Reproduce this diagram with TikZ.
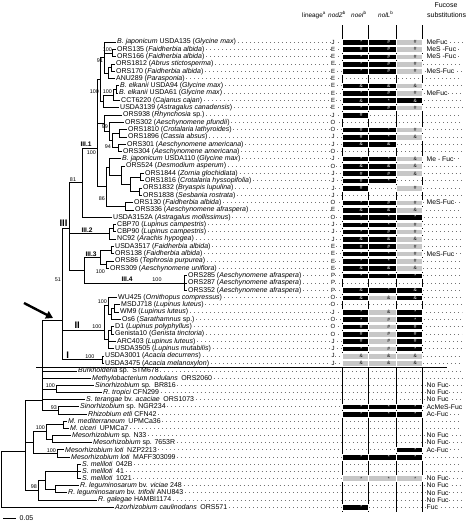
\documentclass[tikz,border=0pt]{standalone}
\usepackage{fontspec}
\setmainfont{Liberation Sans}
\usetikzlibrary{arrows.meta}
\colorlet{cK}{black}
\colorlet{sK}{white}
\colorlet{cG}{black!22}
\colorlet{sG}{black}
\newcommand\cz[5]{\ifx#4W\else
  \fill[fill=c#4,draw=white,line width=0.4pt] (#2,#1-2.8) rectangle (#3,#1+2.8);
  \node[sym,text=s#4] at ({#2+0.74*(#3-#2)},#1) {#5};\fi}
\newcommand\rowc[7]{\cz{#1}{342}{368}{#2}{#3}\cz{#1}{368}{396}{#4}{#5}\cz{#1}{396}{422}{#6}{#7}}
\newcommand\lab[4]{\node[lbl] (#1) at (#2,#3) {#4};}
\newcommand\fuc[3]{\node[fuc] (#1) at (426,#2) {#3};}
\begin{document}
\begin{tikzpicture}[x=1pt,y=-1pt,
  lbl/.style={anchor=west,inner xsep=1.5pt,inner ysep=0.3pt,font=\fontsize{7}{7}\selectfont},
  tr/.style={line width=0.8pt},
  dotl/.style={draw=black!55,line width=0.7pt,dash pattern=on 0.7pt off 3.3pt},
  sym/.style={font=\fontsize{4.8}{4.8}\selectfont,inner sep=0pt},
  fuc/.style={anchor=west,fill=white,inner sep=0.5pt,font=\fontsize{6.8}{7}\selectfont},
  lin/.style={fill=white,inner sep=0.4pt,font=\fontsize{6}{6}\selectfont},
  bs/.style={inner sep=0.3pt,font=\fontsize{5.4}{6}\selectfont},
  cl/.style={inner sep=0.3pt,font=\bfseries\fontsize{6.6}{7}\selectfont},
  clb/.style={inner sep=0.3pt,font=\bfseries\fontsize{9.5}{10}\selectfont},
  hd/.style={inner sep=0pt,font=\fontsize{6.4}{7}\selectfont}]
\useasboundingbox (0,0) rectangle (474,523);
% ---------------- labels ----------------
\lab{L1}{115.5}{42.0}{\textit{B. japonicum} USDA135 (\textit{Glycine max})}
\lab{L2}{115.5}{49.3}{ORS135 (\textit{Faidherbia albida})}
\lab{L3}{115.5}{56.6}{ORS166 (\textit{Faidherbia albida})}
\lab{L4}{114.5}{63.9}{ORS1812 (\textit{Abrus stictosperma})}
\lab{L5}{114.5}{71.2}{ORS170 (\textit{Faidherbia albida})}
\lab{L6}{114.5}{78.5}{ANU289 (\textit{Parasponia})}
\lab{L7}{118.5}{85.8}{\textit{B. elkanii} USDA94 (\textit{Glycine max})}
\lab{L8}{117.5}{93.1}{\textit{B. elkanii} USDA61 (\textit{Glycine max})}
\lab{L9}{119.5}{100.4}{CCT6220 (\textit{Cajanus cajan})}
\lab{L10}{118.5}{107.7}{USDA3139 (\textit{Astragalus canadensis})}
\lab{L11}{121.5}{115.0}{ORS938 (\textit{Rhynchosia} sp.)}
\lab{L12}{123.5}{122.3}{ORS302 (\textit{Aeschynomene pfundii})}
\lab{L13}{126.5}{129.6}{ORS1810 (\textit{Crotalaria lathyroides})}
\lab{L14}{126.5}{136.9}{ORS1896 (\textit{Cassia absus})}
\lab{L15}{125.5}{144.2}{ORS301 (\textit{Aeschynomene americana})}
\lab{L16}{121.5}{151.5}{ORS304 (\textit{Aeschynomene americana})}
\lab{L17}{120.5}{158.8}{\textit{B. japonicum} USDA110 (\textit{Glycine max})}
\lab{L18}{124.5}{166.1}{ORS524 (\textit{Desmodium asperum})}
\lab{L19}{143.5}{173.4}{ORS1844 (\textit{Zornia glochidiata})}
\lab{L20}{143.5}{180.7}{ORS1816 (\textit{Crotalaria hyssopifolia})}
\lab{L21}{141.5}{188.0}{ORS1832 (\textit{Bryaspis lupulina})}
\lab{L22}{141.5}{195.3}{ORS1838 (\textit{Sesbania rostrata})}
\lab{L23}{132.5}{202.6}{ORS130 (\textit{Faidherbia albida})}
\lab{L24}{133.5}{209.9}{ORS336 (\textit{Aeschynomene afraspera})}
\lab{L25}{111.5}{217.2}{USDA3152A (\textit{Astragalus mollissimus})}
\lab{L26}{115.5}{224.5}{CBP70 (\textit{Lupinus campestris})}
\lab{L27}{115.5}{231.8}{CBP90 (\textit{Lupinus campestris})}
\lab{L28}{115.5}{239.1}{NC92 (\textit{Arachis hypogea})}
\lab{L29}{113.5}{246.4}{USDA3517 (\textit{Faidherbia albida})}
\lab{L30}{113.5}{253.7}{ORS138 (\textit{Faidherbia albida})}
\lab{L31}{113.5}{261.0}{ORS86 (\textit{Tephrosia purpurea})}
\lab{L32}{108.5}{268.3}{ORS309 (\textit{Aeschynomene uniflora})}
\lab{L33}{186.5}{275.6}{ORS285 (\textit{Aeschynomene afraspera})}
\lab{L34}{186.5}{282.9}{ORS287 (\textit{Aeschynomene afraspera})}
\lab{L35}{186.5}{290.2}{ORS352 (\textit{Aeschynomene afraspera})}
\lab{L36}{116.5}{297.5}{WU425 (\textit{Ornithopus compressus})}
\lab{L37}{119.5}{304.8}{MSDJ718 (\textit{Lupinus luteus})}
\lab{L38}{118.5}{312.1}{WM9 (\textit{Lupinus luteus})}
\lab{L39}{120.5}{319.4}{Os6 (\textit{Sarathamnus} sp.)}
\lab{L40}{113.5}{326.7}{D1 (\textit{Lupinus polyphyllus})}
\lab{L41}{113.5}{334.0}{Genista10 (\textit{Genista tinctoria})}
\lab{L42}{115.5}{341.3}{ARC403 (\textit{Lupinus luteus})}
\lab{L43}{113.5}{348.6}{USDA3505 (\textit{Lupinus mutabilis})}
\lab{L44}{103.5}{355.9}{USDA3001 (\textit{Acacia decurrens})}
\lab{L45}{103.5}{363.2}{USDA3475 (\textit{Acacia melanoxylon})}
\lab{L46}{76.5}{371.0}{\textit{Burkholderia} sp.\enspace STM678}
\lab{L47}{90.5}{378.2}{\textit{Methylobacterium nodulans}\enspace ORS2060}
\lab{L48}{93.5}{385.3}{\textit{Sinorhizobium} sp.\enspace BR816}
\lab{L49}{101.5}{392.5}{\textit{R. tropici} CFN299}
\lab{L50}{84.5}{399.6}{\textit{S. terangae} bv. \textit{acaciae}\enspace ORS1073}
\lab{L51}{78.5}{406.8}{\textit{Sinorhizobium} sp. NGR234}
\lab{L52}{86.5}{414.0}{\textit{Rhizobium etli} CFN42}
\lab{L53}{66.5}{421.1}{\textit{M. mediterraneum}\enspace UPMCa36}
\lab{L54}{68.5}{428.3}{\textit{M. ciceri}\enspace UPMCa7}
\lab{L55}{70.5}{435.4}{\textit{Mesorhizobium} sp. N33}
\lab{L56}{91.5}{442.6}{\textit{Mesorhizobium} sp. 7653R}
\lab{L57}{63.5}{449.8}{\textit{Mesorhizobium loti}\enspace NZP2213}
\lab{L58}{69.5}{456.9}{\textit{Mesorhizobium loti}\enspace MAFF303099}
\lab{L59}{80.5}{464.1}{\textit{S. meliloti}\enspace 042B}
\lab{L60}{80.5}{471.2}{\textit{S. meliloti}\enspace 41}
\lab{L61}{80.5}{478.4}{\textit{S. meliloti}\enspace 1021}
\lab{L62}{78.5}{485.6}{\textit{R. leguminosarum} bv. \textit{viciae} 248}
\lab{L63}{66.5}{492.7}{\textit{R. leguminosarum} bv. \textit{trifolii} ANU843}
\lab{L64}{96.5}{499.9}{\textit{R. galegae} HAMBI1174}
\lab{L65}{113.5}{507.0}{\textit{Azorhizobium caulinodans}\enspace ORS571}
% ---------------- internal nodes ----------------
\coordinate (nA) at (112,52.95);
\coordinate (nB) at (111,67.55);
\coordinate (nC) at (108,73.0);
\coordinate (nD) at (104,57.5);
\coordinate (nE) at (116,89.45);
\coordinate (nF) at (113,94.9);
\coordinate (nG) at (103,101.3);
\coordinate (nH) at (100,79.4);
\coordinate (nJ) at (119,133.25);
\coordinate (nK) at (118,147.85);
\coordinate (nL) at (112,140.55);
\coordinate (nM) at (109,131.4);
\coordinate (nN) at (104,123.2);
\coordinate (nO) at (140,177.05);
\coordinate (nP) at (139,191.65);
\coordinate (nQ) at (130,184.35);
\coordinate (nR) at (121,175.2);
\coordinate (nS) at (109,167);
\coordinate (nT) at (125,206.25);
\coordinate (nU) at (106,186.6);
\coordinate (nTk) at (97,148);
\coordinate (n31) at (82,182.6);
\coordinate (nV) at (113,228.15);
\coordinate (nW) at (109,233.6);
\coordinate (nX) at (111,250.05);
\coordinate (nY) at (106,264.65);
\coordinate (nZ) at (100,257.35);
\coordinate (nAA) at (184,282.9);
\coordinate (n34) at (84,270.1);
\coordinate (n3) at (69,228);
\coordinate (nBB) at (114,308.45);
\coordinate (nCC) at (111,313.9);
\coordinate (nDD) at (108,305.7);
\coordinate (nE1) at (111,330.35);
\coordinate (nEE) at (108,339.5);
\coordinate (nII) at (104,330);
\coordinate (nI1) at (102,359.55);
\coordinate (nBr) at (62,320);
\coordinate (n42) at (42,400);
\coordinate (nTp) at (56,388.9);
\coordinate (nNG) at (58,410.4);
\coordinate (nMe1) at (63,424.7);
\coordinate (nMe2) at (52,439);
\coordinate (nMe3) at (46,431.85);
\coordinate (nMe4) at (57,453.35);
\coordinate (nMe5) at (33,442.6);
\coordinate (nSm) at (77,471.2);
\coordinate (nRl) at (55,489.15);
\coordinate (nM2) at (45,480.2);
\coordinate (nM1) at (38,490);
\coordinate (n25) at (25,451);
\coordinate (nRt) at (1.5,480);
% ---------------- branches ----------------
\foreach \p/\c in {nA/L2,nA/L3,nB/L4,nB/L5,nC/L6,nD/L1,nE/L7,nE/L8,nF/L9,nG/L10,
  nJ/L13,nJ/L14,nK/L15,nK/L16,nM/L12,nN/L11,nO/L19,nO/L20,nP/L21,nP/L22,nR/L18,
  nS/L17,nT/L23,nT/L24,n31/L25,nV/L26,nV/L27,nW/L28,nX/L29,nX/L30,nY/L31,nY/L32,
  nAA/L33,nAA/L34,nAA/L35,nBB/L37,nBB/L38,nCC/L39,nDD/L36,nE1/L40,nE1/L41,
  nEE/L42,nEE/L43,nI1/L44,nI1/L45,n42/L46,n42/L47,n42/L50,nTp/L48,nTp/L49,
  nNG/L51,nNG/L52,nMe1/L53,nMe1/L54,nMe2/L55,nMe2/L56,nMe4/L57,nMe4/L58,
  nSm/L59,nSm/L60,nSm/L61,nRl/L62,nRl/L63,nM1/L64,nRt/L65}
  \draw[tr] (\p) |- (\c.west);
\foreach \p/\c in {nC/nB,nD/nA,nD/nC,nF/nE,nG/nF,nH/nD,nH/nG,nL/nJ,nL/nK,nM/nL,
  nN/nM,nQ/nO,nQ/nP,nR/nQ,nS/nR,nU/nS,nU/nT,nTk/nH,nTk/nN,nTk/nU,n31/nTk,nW/nV,
  nZ/nX,nZ/nY,n34/nZ,n34/nAA,n3/n31,n3/nW,n3/n34,nCC/nBB,nDD/nCC,nEE/nE1,
  nII/nDD,nII/nEE,nBr/n3,nBr/nII,nBr/nI1,n42/nBr,n42/nTp,n42/nNG,nMe3/nMe1,
  nMe3/nMe2,nMe5/nMe3,nMe5/nMe4,nM2/nSm,nM2/nRl,nM1/nM2,n25/n42,n25/nMe5,
  n25/nM1,nRt/n25}
  \draw[tr] (\p) |- (\c);
% ---------------- bootstrap values ----------------
\node[bs,anchor=south east] (b1) at (112.5,52.3) {100};
\node[bs,anchor=east] (b2) at (103.5,61) {91};
\node[bs,anchor=south east] (b3) at (99.5,94) {100};
\node[bs,anchor=south east] (b4) at (112.5,94.2) {100};
\node[bs,anchor=east] (b5) at (108.5,127) {99};
\node[bs,anchor=east] (b6) at (111.5,146.5) {94};
\node[bs,anchor=north east] (b7) at (96.5,150) {100};
\node[bs,anchor=east] (b8) at (105.5,199) {86};
\node[bs,anchor=south west] (b9) at (69.5,181.8) {81};
\node[bs,anchor=east] (b10) at (105.5,272) {100};
\node[bs,anchor=south] (b11) at (157,282.2) {100};
\node[bs,anchor=east] (b12) at (61.5,280) {51};
\node[bs,anchor=east] (b13) at (107.5,301.5) {100};
\node[bs,anchor=south east] (b14) at (102,329.3) {100};
\node[bs,anchor=south east] (b15) at (95,358.8) {100};
\node[bs,anchor=south east] (b16) at (55.5,388.3) {100};
\node[bs,anchor=south east] (b17) at (57.5,409.8) {93};
\node[bs,anchor=east] (b18) at (45.5,428) {100};
\node[bs,anchor=south east] (b19) at (56.5,452.7) {100};
\node[bs,anchor=east] (b20) at (37.5,487) {98};
% ---------------- clade labels ----------------
\node[cl,anchor=south west] (c31) at (80,147.3) {III.1};
\node[cl,anchor=south west] (c32) at (81,232.8) {III.2};
\node[cl,anchor=south west] (c33) at (85,256.6) {III.3};
\node[cl,anchor=south west] (c34) at (121,282.2) {III.4};
\node[clb,anchor=south east] (c3) at (68,227) {III};
\node[clb,anchor=south west] (c2) at (74,329.3) {II};
\node[clb,anchor=south west] (c1) at (66,358.8) {I};
% ---------------- arrow and scale ----------------
\coordinate (arS) at (24,303);
\coordinate (arE) at (53,318);
\draw[line width=2.4pt,-{Triangle[length=7pt,width=8pt]}] (arS) -- (arE);
\coordinate (sb1) at (3,518);
\coordinate (sb2) at (16,518);
\draw[line width=0.7pt] (sb1) -- (sb2);
\node[anchor=west,inner sep=0.5pt,font=\fontsize{7}{7}\selectfont] (sbl) at (19,518) {0.05};
% ---------------- dotted leaders ----------------
\coordinate (xr) at (462,0);
\foreach \i in {1,...,65} \draw[dotl] (L\i.east) -- (L\i.east -| xr);
% ---------------- table ----------------
\foreach \x in {342,368,396,422} \draw[line width=0.7pt] (\x,25) -- (\x,512);
\rowc{42.0}{K}{*}{K}{\#}{G}{\#}
\rowc{49.3}{K}{\#}{K}{\#}{G}{\#}
\rowc{56.6}{K}{*}{K}{\#}{G}{\#}
\rowc{63.9}{K}{*}{K}{\#}{G}{\#}
\rowc{71.2}{K}{*}{K}{\#}{G}{\#}
\rowc{85.8}{K}{\&}{K}{\&}{G}{\&}
\rowc{93.1}{K}{*}{K}{\#}{G}{\#}
\rowc{100.4}{K}{\&}{K}{*}{K}{\&}
\rowc{107.7}{K}{*}{K}{\#}{G}{\#}
\rowc{115.0}{K}{\#}{W}{}{W}{}
\rowc{129.6}{K}{\#}{K}{*}{G}{\#}
\rowc{136.9}{K}{\#}{K}{*}{G}{\&}
\rowc{144.2}{K}{\&}{K}{\&}{W}{}
\rowc{158.8}{K}{*}{K}{*}{G}{\&}
\rowc{166.1}{K}{\&}{K}{\&}{G}{\&}
\rowc{173.4}{K}{\#}{K}{\#}{G}{\&}
\rowc{180.7}{K}{\#}{K}{*}{W}{}
\rowc{188.0}{K}{\#}{W}{}{G}{\#}
\rowc{202.6}{K}{*}{K}{\#}{G}{\#}
\rowc{209.9}{K}{\&}{K}{\&}{G}{\&}
\rowc{217.2}{K}{*}{K}{*}{K}{*}
\rowc{224.5}{K}{*}{K}{*}{G}{\#}
\rowc{231.8}{K}{*}{K}{\#}{G}{\#}
\rowc{239.1}{K}{\&}{K}{\&}{G}{\&}
\rowc{246.4}{K}{\#}{K}{\#}{G}{\#}
\rowc{253.7}{K}{*}{K}{*}{G}{\#}
\rowc{261.0}{K}{*}{K}{*}{G}{\#}
\rowc{268.3}{K}{\&}{K}{\&}{G}{\&}
\rowc{275.6}{K}{*}{K}{*}{K}{*}
\rowc{290.2}{K}{\&}{K}{*}{K}{\&}
\rowc{297.5}{K}{\&}{G}{\&}{K}{\&}
\rowc{312.1}{K}{*}{G}{\&}{K}{*}
\rowc{319.4}{K}{*}{G}{\#}{K}{*}
\rowc{326.7}{K}{\#}{G}{\#}{K}{\#}
\rowc{334.0}{K}{\#}{G}{\#}{K}{\#}
\rowc{341.3}{K}{\#}{G}{\#}{K}{\#}
\rowc{348.6}{K}{*}{G}{\#}{K}{*}
\rowc{355.9}{G}{\&}{G}{\&}{G}{\&}
\rowc{363.2}{G}{\&}{G}{\&}{G}{\&}
\rowc{406.8}{K}{*}{K}{*}{K}{*}
\rowc{414.0}{K}{*}{K}{*}{K}{*}
\rowc{449.8}{W}{}{W}{}{K}{*}
\rowc{456.9}{K}{*}{K}{*}{K}{*}
\rowc{478.4}{G}{*}{G}{*}{G}{*}
\rowc{507.0}{K}{*}{W}{}{W}{}
% separator
\draw[line width=0.8pt] (36,367.6) -- (447,367.6);
% lineage letters
\foreach \l [count=\i] in {J,E,E,E,E,E,E,E,E,E,J,O,O,J,J,O,J,O,J,J,J,J,O,E,O,J,J,J,E,E,E,E,P,P,P,O,O,J,O,O,O,J,J,J,J}
  \node[lin] (lg\i) at (333,{42+(\i-1)*7.3}) {\l};
% fucose substitutions
\fuc{f1}{42.0}{MeFuc}
\fuc{f2}{49.3}{MeS -Fuc}
\fuc{f3}{56.6}{MeS -Fuc}
\fuc{f4}{71.2}{MeS-Fuc}
\fuc{f5}{93.1}{MeFuc}
\fuc{f6}{158.8}{Me - Fuc}
\fuc{f7}{202.6}{MeS-Fuc}
\fuc{f8}{253.7}{MeS-Fuc}
\fuc{f9}{385.3}{No Fuc}
\fuc{f10}{392.5}{No Fuc}
\fuc{f11}{399.6}{No Fuc}
\fuc{f12}{406.8}{AcMeS-Fuc}
\fuc{f13}{414.0}{Ac-Fuc}
\fuc{f14}{435.4}{No Fuc}
\fuc{f15}{442.6}{No Fuc}
\fuc{f16}{449.8}{Ac-Fuc}
\fuc{f17}{478.4}{No Fuc}
\fuc{f18}{485.6}{No Fuc}
\fuc{f19}{492.7}{No Fuc}
\fuc{f20}{499.9}{No Fuc}
\fuc{f21}{507.0}{Fuc}
% headers
\node[hd,anchor=base west] (h1) at (302,17) {lineage\textsuperscript{a}};
\node[hd,anchor=base west] (h2) at (328,17) {\textit{nodZ}\textsuperscript{b}};
\node[hd,anchor=base west] (h3) at (351,17) {\textit{noeI}\textsuperscript{b}};
\node[hd,anchor=base west] (h4) at (378,17) {\textit{nolL}\textsuperscript{b}};
\node[hd,anchor=base,font=\fontsize{7}{7}\selectfont] (h5) at (446,7) {Fucose};
\node[hd,anchor=base west,font=\fontsize{7}{7}\selectfont] (h6) at (427,17) {substitutions};
\end{tikzpicture}
\end{document}
